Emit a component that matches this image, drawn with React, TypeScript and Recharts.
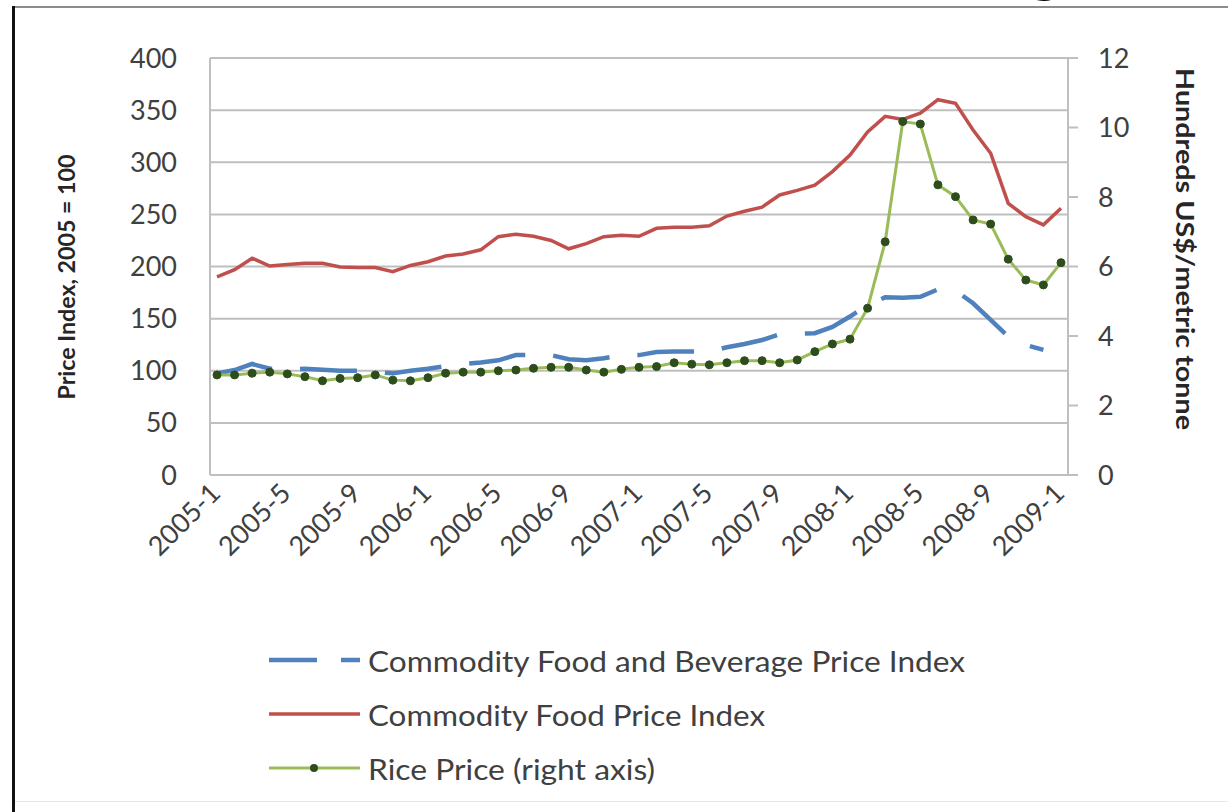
import { CartesianGrid, Line, LineChart, XAxis, YAxis } from "recharts"

const months = [
  "2005-1", "2005-2", "2005-3", "2005-4", "2005-5", "2005-6", "2005-7", "2005-8", "2005-9", "2005-10", "2005-11", "2005-12",
  "2006-1", "2006-2", "2006-3", "2006-4", "2006-5", "2006-6", "2006-7", "2006-8", "2006-9", "2006-10", "2006-11", "2006-12",
  "2007-1", "2007-2", "2007-3", "2007-4", "2007-5", "2007-6", "2007-7", "2007-8", "2007-9", "2007-10", "2007-11", "2007-12",
  "2008-1", "2008-2", "2008-3", "2008-4", "2008-5", "2008-6", "2008-7", "2008-8", "2008-9", "2008-10", "2008-11", "2008-12",
  "2009-1",
]

// Commodity Food and Beverage Price Index (2005 = 100), no reading for 2009-1
const foodBeverageIndex = [
  97.5, 100.7, 106.5, 102, 101, 102, 101, 100, 100, 99, 97.5, 100,
  102, 104.5, 106.5, 108, 110, 115, 115, 115, 111, 110, 112, 115,
  115, 118, 118.5, 118.5, 118.5, 122.5, 125.7, 129.5, 135, 135.5, 136, 142,
  152, 163, 170.4, 170, 171, 178, 177, 164.7, 148.7, 132.7, 124.7, 120,
  null,
]

// Commodity Food Price Index (2005 = 100)
const foodIndex = [
  190, 197, 208, 200.5, 202, 203, 203, 199.5, 199, 199, 195, 201,
  204.6, 210, 212, 216, 228.6, 231, 229, 225, 217, 222, 228.6, 230,
  229, 236.6, 237.6, 237.6, 239, 248.4, 253, 257, 268.6, 273, 278, 291,
  307, 329, 344, 341, 347, 360, 356.5, 331, 308.6, 260.6, 247.8, 240,
  255.8,
]

// Rice price, hundreds of US$ per metric tonne
const ricePrice = [
  2.88, 2.88, 2.93, 2.96, 2.91, 2.83, 2.71, 2.78, 2.8, 2.88, 2.73, 2.71,
  2.8, 2.93, 2.96, 2.96, 3.0, 3.02, 3.07, 3.1, 3.1, 3.02, 2.96, 3.04,
  3.1, 3.12, 3.23, 3.19, 3.17, 3.23, 3.29, 3.29, 3.23, 3.31, 3.55, 3.77,
  3.91, 4.8, 6.71, 10.17, 10.1, 8.35, 8.01, 7.34, 7.22, 6.21, 5.61, 5.47,
  6.11,
]

const indexTicks = [0, 50, 100, 150, 200, 250, 300, 350, 400]
const riceTicks = [0, 2, 4, 6, 8, 10, 12]

const data = months.map((month, i) => ({
  month,
  foodBeverage: foodBeverageIndex[i],
  food: foodIndex[i],
  rice: ricePrice[i],
}))

const FONT = "Lato, 'Open Sans', sans-serif"
const TEXT = "#404040"
const GRID = "#bfbfbf"
const BLUE = "#4f81bd"
const RED = "#c0504d"
const GREEN = "#9bbb59"
const DOT = "#2e4d1c"

function MonthTick({ x, y, payload }: any) {
  return (
    <g transform={`translate(${x + 5},${y + 20}) rotate(-45)`}>
      <text x={0} y={0} textAnchor="end" fontSize={27} fill={TEXT} fontFamily={FONT}>
        {payload.value}
      </text>
    </g>
  )
}

const legendItems = [
  { name: "Commodity Food and Beverage Price Index", color: BLUE, dash: "48 24", width: 4.5, dot: false, span: 597 },
  { name: "Commodity Food Price Index", color: RED, dash: undefined, width: 3.5, dot: false, span: 397 },
  { name: "Rice Price (right axis)", color: GREEN, dash: undefined, width: 3, dot: true, span: 287 },
]

// axis titles, legend and the frame drawn over the chart
function Overlay() {
  return (
    <svg width={1228} height={812} style={{ position: "absolute", left: 0, top: 0, pointerEvents: "none" }}>
      <text
        transform="translate(66 277) rotate(-90)"
        textAnchor="middle"
        dominantBaseline="central"
        fontSize={23}
        fontWeight={700}
        fill="#262626"
        fontFamily={FONT}
        textLength={245}
        lengthAdjust="spacingAndGlyphs"
      >
        Price Index, 2005 = 100
      </text>
      <text
        transform="translate(1185 249) rotate(90)"
        textAnchor="middle"
        dominantBaseline="central"
        fontSize={24}
        fontWeight={700}
        fill="#262626"
        fontFamily={FONT}
        textLength={362}
        lengthAdjust="spacingAndGlyphs"
      >
        Hundreds US$/metric tonne
      </text>
      {legendItems.map((item, i) => {
        const y = 660 + i * 54
        return (
          <g key={item.name}>
            <line x1={269} x2={360} y1={y} y2={y} stroke={item.color} strokeWidth={item.width} strokeDasharray={item.dash} />
            {item.dot && <circle cx={314} cy={y} r={4} fill={DOT} />}
            <text
              x={368}
              y={y}
              dominantBaseline="central"
              fontSize={29}
              fill={TEXT}
              fontFamily={FONT}
              textLength={item.span}
              lengthAdjust="spacingAndGlyphs"
            >
              {item.name}
            </text>
          </g>
        )
      })}
      <text x={1028} y={-10} fontSize={64} fontWeight={700} fill="#000" fontFamily={FONT}>
        g
      </text>
    </svg>
  )
}

export default function App() {
  return (
    <div style={{ position: "absolute", left: 0, top: 0, width: 1228, height: 812, background: "#fff", overflow: "hidden" }}>
      <div style={{ position: "absolute", left: 12, top: 6, width: 1216, height: 2, background: "#8c8c8c" }} />
      <div style={{ position: "absolute", left: 12, top: 6, width: 3, height: 806, background: "#111" }} />
      <div style={{ position: "absolute", left: 15, top: 801, width: 1213, height: 1, background: "#e8e8e8" }} />
      <div style={{ position: "absolute", left: 0, top: 0 }}>
        <LineChart width={1228} height={812} data={data} margin={{ top: 58, right: 0, bottom: 0, left: 0 }}>
          <CartesianGrid yAxisId="left" vertical={false} stroke={GRID} strokeWidth={2} />
          <XAxis
            dataKey="month"
            interval={3}
            height={337}
            padding={{ left: 7, right: 7 }}
            tickLine={false}
            tickSize={0}
            tickMargin={0}
            axisLine={{ stroke: GRID, strokeWidth: 2 }}
            tick={<MonthTick />}
          />
          <YAxis
            yAxisId="left"
            orientation="left"
            domain={[0, 400]}
            ticks={indexTicks}
            width={210}
            tickSize={0}
            tickMargin={33}
            tickLine={false}
            axisLine={{ stroke: GRID, strokeWidth: 2 }}
            tick={{ fontSize: 27, fill: TEXT, fontFamily: FONT }}
          />
          <YAxis
            yAxisId="right"
            orientation="right"
            domain={[0, 12]}
            ticks={riceTicks}
            width={160}
            tickSize={10}
            tickMargin={20}
            tickLine={{ stroke: GRID, strokeWidth: 2 }}
            axisLine={{ stroke: GRID, strokeWidth: 2 }}
            tick={{ fontSize: 27, fill: TEXT, fontFamily: FONT }}
          />
          <Line
            yAxisId="left"
            type="linear"
            dataKey="foodBeverage"
            stroke={BLUE}
            strokeWidth={4.5}
            strokeDasharray="57 28"
            dot={false}
            isAnimationActive={false}
          />
          <Line
            yAxisId="left"
            type="linear"
            dataKey="food"
            stroke={RED}
            strokeWidth={3.5}
            dot={false}
            isAnimationActive={false}
          />
          <Line
            yAxisId="right"
            type="linear"
            dataKey="rice"
            stroke={GREEN}
            strokeWidth={3}
            dot={{ r: 4, fill: DOT, stroke: DOT, strokeWidth: 1 }}
            isAnimationActive={false}
          />
        </LineChart>
      </div>
      <Overlay />
    </div>
  )
}
